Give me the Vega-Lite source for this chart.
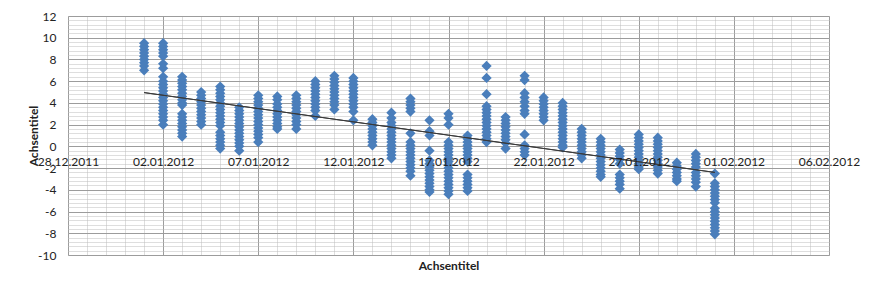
{
 "$schema": "https://vega.github.io/schema/vega-lite/v6.json",
 "width": 761,
 "height": 239,
 "autosize": "none",
 "padding": {"left": 68, "top": 16, "right": 46, "bottom": 36},
 "background": "#ffffff",
 "config": {"view": {"stroke": null}, "font": "Lato", "axis": {"labelFont": "Lato", "titleFont": "Lato"}},
 "datasets": {
  "obs": [
   {"date":"2012-01-01","value":9.5},{"date":"2012-01-01","value":9.2},{"date":"2012-01-01","value":8.9},{"date":"2012-01-01","value":8.6},{"date":"2012-01-01","value":8.3},{"date":"2012-01-01","value":8.0},{"date":"2012-01-01","value":7.7},{"date":"2012-01-01","value":7.4},{"date":"2012-01-01","value":7.0},
   {"date":"2012-01-02","value":9.5},{"date":"2012-01-02","value":9.2},{"date":"2012-01-02","value":8.9},{"date":"2012-01-02","value":8.6},{"date":"2012-01-02","value":8.3},{"date":"2012-01-02","value":7.6},{"date":"2012-01-02","value":7.2},{"date":"2012-01-02","value":6.4},{"date":"2012-01-02","value":6.0},{"date":"2012-01-02","value":5.7},{"date":"2012-01-02","value":5.4},{"date":"2012-01-02","value":5.1},{"date":"2012-01-02","value":4.8},{"date":"2012-01-02","value":4.5},{"date":"2012-01-02","value":4.2},{"date":"2012-01-02","value":3.9},{"date":"2012-01-02","value":3.6},{"date":"2012-01-02","value":3.3},{"date":"2012-01-02","value":3.0},{"date":"2012-01-02","value":2.7},{"date":"2012-01-02","value":2.4},{"date":"2012-01-02","value":2.0},
   {"date":"2012-01-03","value":6.4},{"date":"2012-01-03","value":6.1},{"date":"2012-01-03","value":5.8},{"date":"2012-01-03","value":5.5},{"date":"2012-01-03","value":5.2},{"date":"2012-01-03","value":4.9},{"date":"2012-01-03","value":4.6},{"date":"2012-01-03","value":4.3},{"date":"2012-01-03","value":4.0},{"date":"2012-01-03","value":3.8},{"date":"2012-01-03","value":3.0},{"date":"2012-01-03","value":2.7},{"date":"2012-01-03","value":2.4},{"date":"2012-01-03","value":2.1},{"date":"2012-01-03","value":1.8},{"date":"2012-01-03","value":1.5},{"date":"2012-01-03","value":1.2},{"date":"2012-01-03","value":0.9},
   {"date":"2012-01-04","value":5.0},{"date":"2012-01-04","value":4.7},{"date":"2012-01-04","value":4.4},{"date":"2012-01-04","value":4.1},{"date":"2012-01-04","value":3.8},{"date":"2012-01-04","value":3.5},{"date":"2012-01-04","value":3.2},{"date":"2012-01-04","value":2.9},{"date":"2012-01-04","value":2.6},{"date":"2012-01-04","value":2.3},{"date":"2012-01-04","value":2.0},
   {"date":"2012-01-05","value":5.5},{"date":"2012-01-05","value":5.2},{"date":"2012-01-05","value":4.9},{"date":"2012-01-05","value":4.6},{"date":"2012-01-05","value":4.3},{"date":"2012-01-05","value":4.0},{"date":"2012-01-05","value":3.7},{"date":"2012-01-05","value":3.4},{"date":"2012-01-05","value":3.1},{"date":"2012-01-05","value":2.8},{"date":"2012-01-05","value":2.5},{"date":"2012-01-05","value":2.2},{"date":"2012-01-05","value":1.9},{"date":"2012-01-05","value":1.3},{"date":"2012-01-05","value":1.0},{"date":"2012-01-05","value":0.7},{"date":"2012-01-05","value":0.4},{"date":"2012-01-05","value":0.1},{"date":"2012-01-05","value":-0.2},
   {"date":"2012-01-06","value":3.6},{"date":"2012-01-06","value":3.3},{"date":"2012-01-06","value":3.0},{"date":"2012-01-06","value":2.7},{"date":"2012-01-06","value":2.4},{"date":"2012-01-06","value":2.1},{"date":"2012-01-06","value":1.8},{"date":"2012-01-06","value":1.5},{"date":"2012-01-06","value":1.2},{"date":"2012-01-06","value":0.9},{"date":"2012-01-06","value":0.6},{"date":"2012-01-06","value":0.3},{"date":"2012-01-06","value":0.0},{"date":"2012-01-06","value":-0.4},
   {"date":"2012-01-07","value":4.7},{"date":"2012-01-07","value":4.4},{"date":"2012-01-07","value":4.1},{"date":"2012-01-07","value":3.8},{"date":"2012-01-07","value":3.5},{"date":"2012-01-07","value":3.2},{"date":"2012-01-07","value":2.9},{"date":"2012-01-07","value":2.6},{"date":"2012-01-07","value":2.3},{"date":"2012-01-07","value":2.0},{"date":"2012-01-07","value":1.7},{"date":"2012-01-07","value":1.4},{"date":"2012-01-07","value":1.1},{"date":"2012-01-07","value":0.8},{"date":"2012-01-07","value":0.4},
   {"date":"2012-01-08","value":4.6},{"date":"2012-01-08","value":4.3},{"date":"2012-01-08","value":3.9},{"date":"2012-01-08","value":3.6},{"date":"2012-01-08","value":3.3},{"date":"2012-01-08","value":3.0},{"date":"2012-01-08","value":2.7},{"date":"2012-01-08","value":2.4},{"date":"2012-01-08","value":2.1},{"date":"2012-01-08","value":1.8},{"date":"2012-01-08","value":1.6},
   {"date":"2012-01-09","value":4.7},{"date":"2012-01-09","value":4.4},{"date":"2012-01-09","value":4.1},{"date":"2012-01-09","value":3.8},{"date":"2012-01-09","value":3.5},{"date":"2012-01-09","value":3.2},{"date":"2012-01-09","value":2.9},{"date":"2012-01-09","value":2.6},{"date":"2012-01-09","value":2.3},{"date":"2012-01-09","value":2.0},{"date":"2012-01-09","value":1.6},
   {"date":"2012-01-10","value":6.0},{"date":"2012-01-10","value":5.7},{"date":"2012-01-10","value":5.4},{"date":"2012-01-10","value":5.1},{"date":"2012-01-10","value":4.8},{"date":"2012-01-10","value":4.5},{"date":"2012-01-10","value":4.2},{"date":"2012-01-10","value":3.9},{"date":"2012-01-10","value":3.6},{"date":"2012-01-10","value":3.3},{"date":"2012-01-10","value":2.8},
   {"date":"2012-01-11","value":6.5},{"date":"2012-01-11","value":6.2},{"date":"2012-01-11","value":5.9},{"date":"2012-01-11","value":5.6},{"date":"2012-01-11","value":5.3},{"date":"2012-01-11","value":5.0},{"date":"2012-01-11","value":4.7},{"date":"2012-01-11","value":4.4},{"date":"2012-01-11","value":4.1},{"date":"2012-01-11","value":3.8},{"date":"2012-01-11","value":3.4},
   {"date":"2012-01-12","value":6.3},{"date":"2012-01-12","value":6.0},{"date":"2012-01-12","value":5.7},{"date":"2012-01-12","value":5.4},{"date":"2012-01-12","value":5.1},{"date":"2012-01-12","value":4.8},{"date":"2012-01-12","value":4.5},{"date":"2012-01-12","value":4.2},{"date":"2012-01-12","value":3.9},{"date":"2012-01-12","value":3.6},{"date":"2012-01-12","value":3.2},{"date":"2012-01-12","value":2.4},
   {"date":"2012-01-13","value":2.5},{"date":"2012-01-13","value":2.2},{"date":"2012-01-13","value":1.9},{"date":"2012-01-13","value":1.6},{"date":"2012-01-13","value":1.3},{"date":"2012-01-13","value":1.0},{"date":"2012-01-13","value":0.7},{"date":"2012-01-13","value":0.4},{"date":"2012-01-13","value":0.1},
   {"date":"2012-01-14","value":3.1},{"date":"2012-01-14","value":2.6},{"date":"2012-01-14","value":2.2},{"date":"2012-01-14","value":1.9},{"date":"2012-01-14","value":1.6},{"date":"2012-01-14","value":1.3},{"date":"2012-01-14","value":1.0},{"date":"2012-01-14","value":0.7},{"date":"2012-01-14","value":0.4},{"date":"2012-01-14","value":0.1},{"date":"2012-01-14","value":-0.2},{"date":"2012-01-14","value":-0.5},{"date":"2012-01-14","value":-0.8},{"date":"2012-01-14","value":-1.1},
   {"date":"2012-01-15","value":4.4},{"date":"2012-01-15","value":4.1},{"date":"2012-01-15","value":3.8},{"date":"2012-01-15","value":3.5},{"date":"2012-01-15","value":3.2},{"date":"2012-01-15","value":1.2},{"date":"2012-01-15","value":0.4},{"date":"2012-01-15","value":0.1},{"date":"2012-01-15","value":-0.2},{"date":"2012-01-15","value":-0.5},{"date":"2012-01-15","value":-0.8},{"date":"2012-01-15","value":-1.1},{"date":"2012-01-15","value":-1.4},{"date":"2012-01-15","value":-1.7},{"date":"2012-01-15","value":-2.0},{"date":"2012-01-15","value":-2.3},{"date":"2012-01-15","value":-2.7},
   {"date":"2012-01-16","value":2.4},{"date":"2012-01-16","value":1.4},{"date":"2012-01-16","value":1.0},{"date":"2012-01-16","value":-0.4},{"date":"2012-01-16","value":-1.3},{"date":"2012-01-16","value":-1.6},{"date":"2012-01-16","value":-1.9},{"date":"2012-01-16","value":-2.2},{"date":"2012-01-16","value":-2.5},{"date":"2012-01-16","value":-2.8},{"date":"2012-01-16","value":-3.1},{"date":"2012-01-16","value":-3.4},{"date":"2012-01-16","value":-3.7},{"date":"2012-01-16","value":-4.0},{"date":"2012-01-16","value":-4.2},
   {"date":"2012-01-17","value":3.0},{"date":"2012-01-17","value":2.6},{"date":"2012-01-17","value":2.0},{"date":"2012-01-17","value":0.4},{"date":"2012-01-17","value":0.1},{"date":"2012-01-17","value":-0.2},{"date":"2012-01-17","value":-0.5},{"date":"2012-01-17","value":-0.8},{"date":"2012-01-17","value":-1.1},{"date":"2012-01-17","value":-1.4},{"date":"2012-01-17","value":-1.7},{"date":"2012-01-17","value":-2.0},{"date":"2012-01-17","value":-2.3},{"date":"2012-01-17","value":-2.6},{"date":"2012-01-17","value":-2.9},{"date":"2012-01-17","value":-3.2},{"date":"2012-01-17","value":-3.5},{"date":"2012-01-17","value":-3.8},{"date":"2012-01-17","value":-4.1},{"date":"2012-01-17","value":-4.4},
   {"date":"2012-01-18","value":1.0},{"date":"2012-01-18","value":0.7},{"date":"2012-01-18","value":0.4},{"date":"2012-01-18","value":0.1},{"date":"2012-01-18","value":-0.2},{"date":"2012-01-18","value":-0.5},{"date":"2012-01-18","value":-0.8},{"date":"2012-01-18","value":-1.1},{"date":"2012-01-18","value":-1.4},{"date":"2012-01-18","value":-2.6},{"date":"2012-01-18","value":-2.9},{"date":"2012-01-18","value":-3.2},{"date":"2012-01-18","value":-3.5},{"date":"2012-01-18","value":-3.8},{"date":"2012-01-18","value":-4.1},
   {"date":"2012-01-19","value":7.4},{"date":"2012-01-19","value":6.3},{"date":"2012-01-19","value":4.8},{"date":"2012-01-19","value":3.7},{"date":"2012-01-19","value":3.4},{"date":"2012-01-19","value":3.1},{"date":"2012-01-19","value":2.8},{"date":"2012-01-19","value":2.5},{"date":"2012-01-19","value":2.2},{"date":"2012-01-19","value":1.9},{"date":"2012-01-19","value":1.6},{"date":"2012-01-19","value":1.3},{"date":"2012-01-19","value":1.0},{"date":"2012-01-19","value":0.7},{"date":"2012-01-19","value":0.4},
   {"date":"2012-01-20","value":2.7},{"date":"2012-01-20","value":2.4},{"date":"2012-01-20","value":2.1},{"date":"2012-01-20","value":1.8},{"date":"2012-01-20","value":1.5},{"date":"2012-01-20","value":1.2},{"date":"2012-01-20","value":0.9},{"date":"2012-01-20","value":0.6},{"date":"2012-01-20","value":0.3},{"date":"2012-01-20","value":-0.2},
   {"date":"2012-01-21","value":6.5},{"date":"2012-01-21","value":6.1},{"date":"2012-01-21","value":4.9},{"date":"2012-01-21","value":4.5},{"date":"2012-01-21","value":4.1},{"date":"2012-01-21","value":3.7},{"date":"2012-01-21","value":3.3},{"date":"2012-01-21","value":3.0},{"date":"2012-01-21","value":1.1},{"date":"2012-01-21","value":0.1},{"date":"2012-01-21","value":-0.2},{"date":"2012-01-21","value":-0.5},{"date":"2012-01-21","value":-0.8},
   {"date":"2012-01-22","value":4.5},{"date":"2012-01-22","value":4.2},{"date":"2012-01-22","value":3.9},{"date":"2012-01-22","value":3.6},{"date":"2012-01-22","value":3.3},{"date":"2012-01-22","value":3.0},{"date":"2012-01-22","value":2.7},{"date":"2012-01-22","value":2.4},
   {"date":"2012-01-23","value":4.0},{"date":"2012-01-23","value":3.7},{"date":"2012-01-23","value":3.4},{"date":"2012-01-23","value":3.1},{"date":"2012-01-23","value":2.8},{"date":"2012-01-23","value":2.5},{"date":"2012-01-23","value":2.2},{"date":"2012-01-23","value":1.9},{"date":"2012-01-23","value":1.6},{"date":"2012-01-23","value":1.3},{"date":"2012-01-23","value":1.0},{"date":"2012-01-23","value":0.7},{"date":"2012-01-23","value":0.4},{"date":"2012-01-23","value":0.1},{"date":"2012-01-23","value":-0.1},
   {"date":"2012-01-24","value":1.6},{"date":"2012-01-24","value":1.3},{"date":"2012-01-24","value":1.0},{"date":"2012-01-24","value":0.7},{"date":"2012-01-24","value":0.4},{"date":"2012-01-24","value":0.1},{"date":"2012-01-24","value":-0.2},{"date":"2012-01-24","value":-0.5},{"date":"2012-01-24","value":-0.8},{"date":"2012-01-24","value":-1.1},
   {"date":"2012-01-25","value":0.7},{"date":"2012-01-25","value":0.4},{"date":"2012-01-25","value":0.1},{"date":"2012-01-25","value":-0.2},{"date":"2012-01-25","value":-0.5},{"date":"2012-01-25","value":-0.8},{"date":"2012-01-25","value":-1.1},{"date":"2012-01-25","value":-1.4},{"date":"2012-01-25","value":-1.7},{"date":"2012-01-25","value":-2.0},{"date":"2012-01-25","value":-2.3},{"date":"2012-01-25","value":-2.6},{"date":"2012-01-25","value":-2.8},
   {"date":"2012-01-26","value":-0.3},{"date":"2012-01-26","value":-0.6},{"date":"2012-01-26","value":-0.9},{"date":"2012-01-26","value":-1.2},{"date":"2012-01-26","value":-1.6},{"date":"2012-01-26","value":-2.6},{"date":"2012-01-26","value":-2.9},{"date":"2012-01-26","value":-3.2},{"date":"2012-01-26","value":-3.5},{"date":"2012-01-26","value":-3.9},
   {"date":"2012-01-27","value":1.1},{"date":"2012-01-27","value":0.8},{"date":"2012-01-27","value":0.5},{"date":"2012-01-27","value":0.2},{"date":"2012-01-27","value":-0.1},{"date":"2012-01-27","value":-0.4},{"date":"2012-01-27","value":-0.7},{"date":"2012-01-27","value":-1.0},{"date":"2012-01-27","value":-1.3},{"date":"2012-01-27","value":-1.6},{"date":"2012-01-27","value":-1.9},{"date":"2012-01-27","value":-2.1},
   {"date":"2012-01-28","value":0.8},{"date":"2012-01-28","value":0.5},{"date":"2012-01-28","value":0.2},{"date":"2012-01-28","value":-0.1},{"date":"2012-01-28","value":-0.4},{"date":"2012-01-28","value":-0.7},{"date":"2012-01-28","value":-1.0},{"date":"2012-01-28","value":-1.3},{"date":"2012-01-28","value":-1.6},{"date":"2012-01-28","value":-1.9},{"date":"2012-01-28","value":-2.2},{"date":"2012-01-28","value":-2.5},
   {"date":"2012-01-29","value":-1.5},{"date":"2012-01-29","value":-1.8},{"date":"2012-01-29","value":-2.1},{"date":"2012-01-29","value":-2.4},{"date":"2012-01-29","value":-2.7},{"date":"2012-01-29","value":-3.0},{"date":"2012-01-29","value":-3.2},
   {"date":"2012-01-30","value":-0.7},{"date":"2012-01-30","value":-1.0},{"date":"2012-01-30","value":-1.3},{"date":"2012-01-30","value":-1.6},{"date":"2012-01-30","value":-1.9},{"date":"2012-01-30","value":-2.4},{"date":"2012-01-30","value":-2.7},{"date":"2012-01-30","value":-3.0},{"date":"2012-01-30","value":-3.3},{"date":"2012-01-30","value":-3.7},
   {"date":"2012-01-31","value":-2.5},{"date":"2012-01-31","value":-3.4},{"date":"2012-01-31","value":-3.7},{"date":"2012-01-31","value":-4.0},{"date":"2012-01-31","value":-4.3},{"date":"2012-01-31","value":-4.6},{"date":"2012-01-31","value":-4.9},{"date":"2012-01-31","value":-5.2},{"date":"2012-01-31","value":-5.7},{"date":"2012-01-31","value":-6.0},{"date":"2012-01-31","value":-6.3},{"date":"2012-01-31","value":-6.6},{"date":"2012-01-31","value":-6.9},{"date":"2012-01-31","value":-7.2},{"date":"2012-01-31","value":-7.5},{"date":"2012-01-31","value":-7.8},{"date":"2012-01-31","value":-8.1}
  ],
  "trend": [
   {"date":"2012-01-01","value":4.95},
   {"date":"2012-01-31","value":-2.4}
  ]
 },
 "layer": [
  {
   "data": {"name": "obs"},
   "mark": {"type": "point", "shape": "diamond", "filled": true, "size": 105, "color": "#4a7ebb", "opacity": 1, "strokeWidth": 0},
   "encoding": {
    "x": {"field": "date", "type": "temporal",
     "scale": {"type": "utc", "domain": [{"year": 2011, "month": 12, "date": 28, "utc": true}, {"year": 2012, "month": 2, "date": 6, "utc": true}]},
     "axis": {"orient": "bottom", "tickCount": {"interval": "day", "step": 1}, "grid": true, "gridColor": "#bdbdbd", "gridDash": [1, 1], "gridWidth": 1, "labels": false, "ticks": false, "domain": false,
      "title": "Achsentitel", "titleFontSize": 12, "titleFontWeight": "bold", "titleColor": "#222222", "titlePadding": 5}},
    "y": {"field": "value", "type": "quantitative",
     "scale": {"domain": [-10, 12], "nice": false, "zero": false},
     "axis": {"orient": "left", "values": [-10, -9.6, -9.2, -8.8, -8.4, -8, -7.6, -7.2, -6.8, -6.4, -6, -5.6, -5.2, -4.8, -4.4, -4, -3.6, -3.2, -2.8, -2.4, -2, -1.6, -1.2, -0.8, -0.4, 0, 0.4, 0.8, 1.2, 1.6, 2, 2.4, 2.8, 3.2, 3.6, 4, 4.4, 4.8, 5.2, 5.6, 6, 6.4, 6.8, 7.2, 7.6, 8, 8.4, 8.8, 9.2, 9.6, 10, 10.4, 10.8, 11.2, 11.6, 12],
      "grid": true, "gridColor": "#bdbdbd", "gridDash": [1, 1], "gridWidth": 1, "labels": false, "ticks": false, "domain": false, "title": null}}
   }
  },
  {
   "data": {"name": "trend"},
   "mark": {"type": "line", "color": "#3a3a3a", "strokeWidth": 1},
   "encoding": {
    "x": {"field": "date", "type": "temporal",
     "axis": {"orient": "bottom", "values": [{"year": 2011, "month": 12, "date": 28, "utc": true}, {"year": 2012, "month": 1, "date": 2, "utc": true}, {"year": 2012, "month": 1, "date": 7, "utc": true}, {"year": 2012, "month": 1, "date": 12, "utc": true}, {"year": 2012, "month": 1, "date": 17, "utc": true}, {"year": 2012, "month": 1, "date": 22, "utc": true}, {"year": 2012, "month": 1, "date": 27, "utc": true}, {"year": 2012, "month": 2, "date": 1, "utc": true}, {"year": 2012, "month": 2, "date": 6, "utc": true}],
      "grid": true, "gridColor": "#9c9c9c", "gridWidth": 1, "labels": false, "ticks": false, "domain": false, "title": null}},
    "y": {"field": "value", "type": "quantitative",
     "axis": {"orient": "left", "values": [-10, -8, -6, -4, -2, 0, 2, 4, 6, 8, 10, 12], "grid": true, "gridColor": "#9c9c9c", "gridWidth": 1, "labels": false, "ticks": false, "domain": false, "title": null}}
   }
  },
  {
   "data": {"name": "trend"},
   "mark": {"type": "line", "color": "#3a3a3a", "strokeWidth": 1},
   "encoding": {
    "x": {"field": "date", "type": "temporal",
     "axis": {"orient": "bottom", "offset": -108.6, "zindex": 1, "values": [{"year": 2011, "month": 12, "date": 28, "utc": true}, {"year": 2012, "month": 1, "date": 2, "utc": true}, {"year": 2012, "month": 1, "date": 7, "utc": true}, {"year": 2012, "month": 1, "date": 12, "utc": true}, {"year": 2012, "month": 1, "date": 17, "utc": true}, {"year": 2012, "month": 1, "date": 22, "utc": true}, {"year": 2012, "month": 1, "date": 27, "utc": true}, {"year": 2012, "month": 2, "date": 1, "utc": true}, {"year": 2012, "month": 2, "date": 6, "utc": true}],
      "format": "%d.%m.%Y", "grid": false, "ticks": false, "domain": false, "labelPadding": 10, "labelFontSize": 12, "labelColor": "#222222", "labelOverlap": false, "labelFlush": false, "labelBound": false, "title": null}},
    "y": {"field": "value", "type": "quantitative",
     "axis": {"orient": "left", "values": [-10, -8, -6, -4, -2, 0, 2, 4, 6, 8, 10, 12], "labelExpr": "'' + datum.value", "grid": false, "ticks": false, "domain": false, "labelPadding": 12, "labelFontSize": 12, "labelColor": "#222222",
      "title": "Achsentitel", "titleFontSize": 12, "titleFontWeight": "bold", "titleColor": "#222222", "titlePadding": -3}}
   }
  }
 ],
 "resolve": {"axis": {"x": "independent", "y": "independent"}}
}
